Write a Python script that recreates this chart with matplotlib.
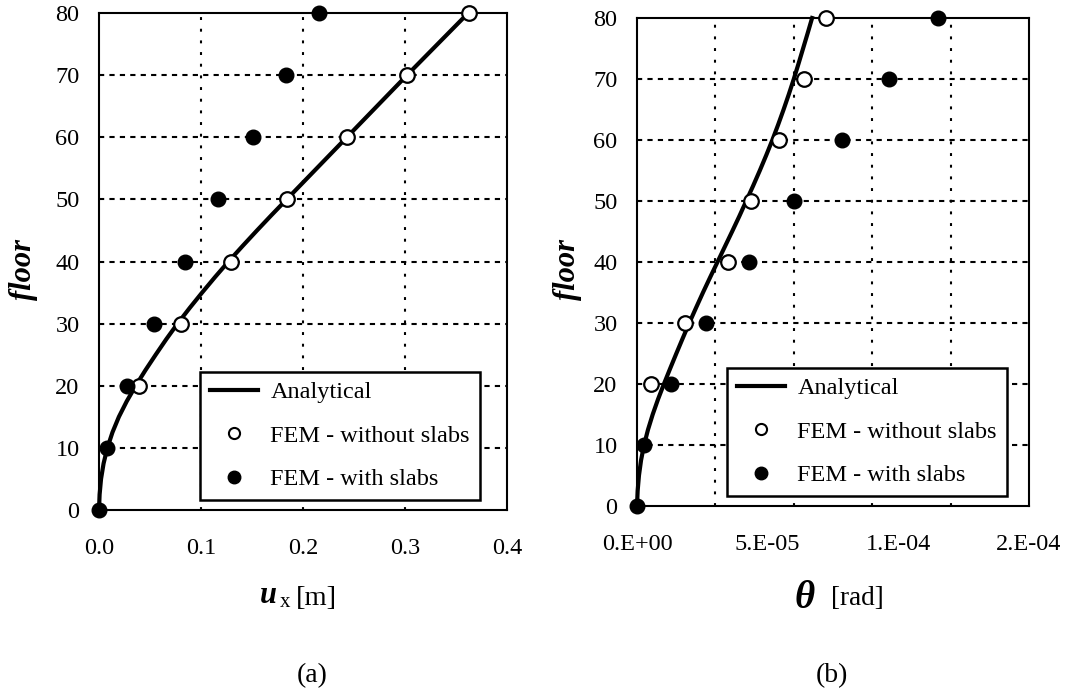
import matplotlib
matplotlib.use("Agg")
import matplotlib.pyplot as plt
from matplotlib.lines import Line2D

plt.rcParams['font.family'] = ['Liberation Serif', 'DejaVu Serif']

# ---------------- data ----------------
floors = [0, 10, 20, 30, 40, 50, 60, 70, 80]
floors_open = [20, 30, 40, 50, 60, 70, 80]

# (a) horizontal displacement u_x [m]
ux_with = [0.0, 0.008, 0.027, 0.054, 0.084, 0.117, 0.151, 0.183, 0.216]
ux_without = [0.039, 0.080, 0.129, 0.184, 0.243, 0.302, 0.363]
ana_floor_a = [0, 2.5, 5, 7.5, 10, 12.5, 15, 17.5, 20, 22.5, 25, 27.5, 30,
               32.5, 35, 37.5, 40, 42.5, 45, 47.5, 50, 55, 60, 65, 70, 75, 80]
ux_ana = [0.0, 0.0006, 0.002, 0.0045, 0.0082, 0.0132, 0.0195, 0.0272, 0.036,
          0.0455, 0.0556, 0.066, 0.077, 0.0888, 0.1011, 0.1138, 0.127,
          0.1408, 0.1549, 0.1693, 0.184, 0.2135, 0.243, 0.2725, 0.302, 0.332, 0.362]

# (b) rotation theta [rad]
th_with = [0.0, 2.7e-6, 1.30e-5, 2.64e-5, 4.29e-5, 6.01e-5, 7.85e-5, 9.64e-5, 1.152e-4]
th_without = [5.4e-6, 1.84e-5, 3.48e-5, 4.36e-5, 5.43e-5, 6.39e-5, 7.23e-5]
ana_floor_b = [0, 2.5, 5, 7.5, 10, 12.5, 15, 17.5, 20, 22.5, 25, 27.5, 30,
               32.5, 35, 37.5, 40, 42.5, 45, 47.5, 50, 52.5, 55, 57.5, 60,
               62.5, 65, 67.5, 70, 72.5, 75, 77.5, 80]
th_ana = [0.0, 0.25e-6, 0.75e-6, 1.55e-6, 2.7e-6, 4.2e-6, 6.0e-6, 8.05e-6, 10.3e-6,
          12.65e-6, 15.05e-6, 17.5e-6, 20.0e-6, 22.6e-6, 25.25e-6, 28.0e-6, 30.8e-6,
          33.6e-6, 36.4e-6, 39.15e-6, 41.8e-6, 44.45e-6, 47.0e-6, 49.45e-6, 51.8e-6,
          54.0e-6, 56.1e-6, 58.1e-6, 60.0e-6, 61.8e-6, 63.55e-6, 65.3e-6, 67.0e-6]

yticks = [0, 10, 20, 30, 40, 50, 60, 70, 80]
xticks_a = [0.0, 0.1, 0.2, 0.3, 0.4]
xticklabels_a = ['0.0', '0.1', '0.2', '0.3', '0.4']
xticks_b = [0.0, 5e-5, 1e-4, 1.5e-4]
xticklabels_b = ['0.E+00', '5.E-05', '1.E-04', '2.E-04']
vgrid_b = [3e-5, 6e-5, 9e-5, 1.2e-4]
legend_labels = ['Analytical', 'FEM - without slabs', 'FEM - with slabs']

# ---------------- figure ----------------
W, H = 1068, 694
fig = plt.figure(figsize=(W / 100, H / 100), dpi=100)


def axrect(l, r, t, b):
    return [l / W, 1 - b / H, (r - l) / W, (b - t) / H]


def px(x, y):
    return x / W, 1 - y / H


ax_a = fig.add_axes(axrect(99, 507, 13, 510))
ax_b = fig.add_axes(axrect(637, 1029, 18, 506))

TICK_FS = 17.5
LEG_FS = 17.5
hdash = (0, (2.5, 2.5))
vdot = (0, (1.4, 4.2))


def style(ax, xlim, xticks, xlabels, vgrid, legbox):
    ax.set_xlim(*xlim)
    ax.set_ylim(0, 80)
    ax.set_yticks(yticks)
    ax.set_xticks(xticks)
    ax.set_xticklabels(xlabels)
    ax.tick_params(axis='both', length=0, labelsize=TICK_FS)
    ax.tick_params(axis='x', pad=20)
    ax.tick_params(axis='y', pad=14)
    for s in ax.spines.values():
        s.set_linewidth(1.5)
        s.set_color('black')
    for y in yticks[1:-1]:
        ax.axhline(y, color='black', lw=1.5, ls=hdash, zorder=1)
    for x in vgrid:
        ax.axvline(x, color='black', lw=1.5, ls=vdot, zorder=1)
    handles = [
        Line2D([], [], color='black', lw=3),
        Line2D([], [], ls='none', marker='o', ms=8, mfc='white', mec='black', mew=1.5),
        Line2D([], [], ls='none', marker='o', ms=9, mfc='black', mec='black'),
    ]
    leg = ax.legend(handles, legend_labels, loc='lower left', bbox_to_anchor=legbox,
                    borderaxespad=0, fontsize=LEG_FS, frameon=True, fancybox=False,
                    framealpha=1, edgecolor='black', handlelength=2.0,
                    handletextpad=0.5, labelspacing=0.88, borderpad=0.4)
    leg.get_frame().set_linewidth(1.8)
    leg.set_zorder(10)


# panel (a)
ax_a.plot(ux_ana, ana_floor_a, color='black', lw=3, zorder=3, clip_on=False)
ax_a.plot(ux_without, floors_open, ls='none', marker='o', ms=10.5, mfc='white',
          mec='black', mew=1.6, zorder=4, clip_on=False)
ax_a.plot(ux_with, floors, ls='none', marker='o', ms=10.5, mfc='black', mec='black',
          zorder=5, clip_on=False)
style(ax_a, (0, 0.4), xticks_a, xticklabels_a, [0.1, 0.2, 0.3],
      ((200 - 99) / 408, (510 - 500) / 497))

# panel (b)
ax_b.plot(th_ana, ana_floor_b, color='black', lw=3, zorder=3, clip_on=False)
ax_b.plot(th_without, floors_open, ls='none', marker='o', ms=10.5, mfc='white',
          mec='black', mew=1.6, zorder=4, clip_on=False)
ax_b.plot(th_with, floors, ls='none', marker='o', ms=10.5, mfc='black', mec='black',
          zorder=5, clip_on=False)
style(ax_b, (0, 1.5e-4), xticks_b, xticklabels_b, vgrid_b,
      ((727 - 637) / 392, (506 - 496) / 488))

# y labels
fig.text(*px(23, 270), 'floor', rotation=90, ha='center', va='center',
         fontsize=22, fontweight='bold', style='italic')
fig.text(*px(567, 269), 'floor', rotation=90, ha='center', va='center',
         fontsize=22, fontweight='bold', style='italic')

# x label (a)
fig.text(*px(260, 603), 'u', ha='left', va='baseline', fontsize=22,
         fontweight='bold', style='italic')
fig.text(*px(280, 607), 'x', ha='left', va='baseline', fontsize=15)
fig.text(*px(296, 605), '[m]', ha='left', va='baseline', fontsize=20.5)

# x label (b)
fig.text(*px(795, 608), 'θ', ha='left', va='baseline', fontsize=28,
         fontweight='bold', style='italic')
fig.text(*px(831, 605), '[rad]', ha='left', va='baseline', fontsize=19.5)

# panel captions
fig.text(*px(312, 676), '(a)', ha='center', va='center', fontsize=20)
fig.text(*px(832, 676), '(b)', ha='center', va='center', fontsize=20)

fig.savefig('out.png', dpi=100, facecolor='white')
